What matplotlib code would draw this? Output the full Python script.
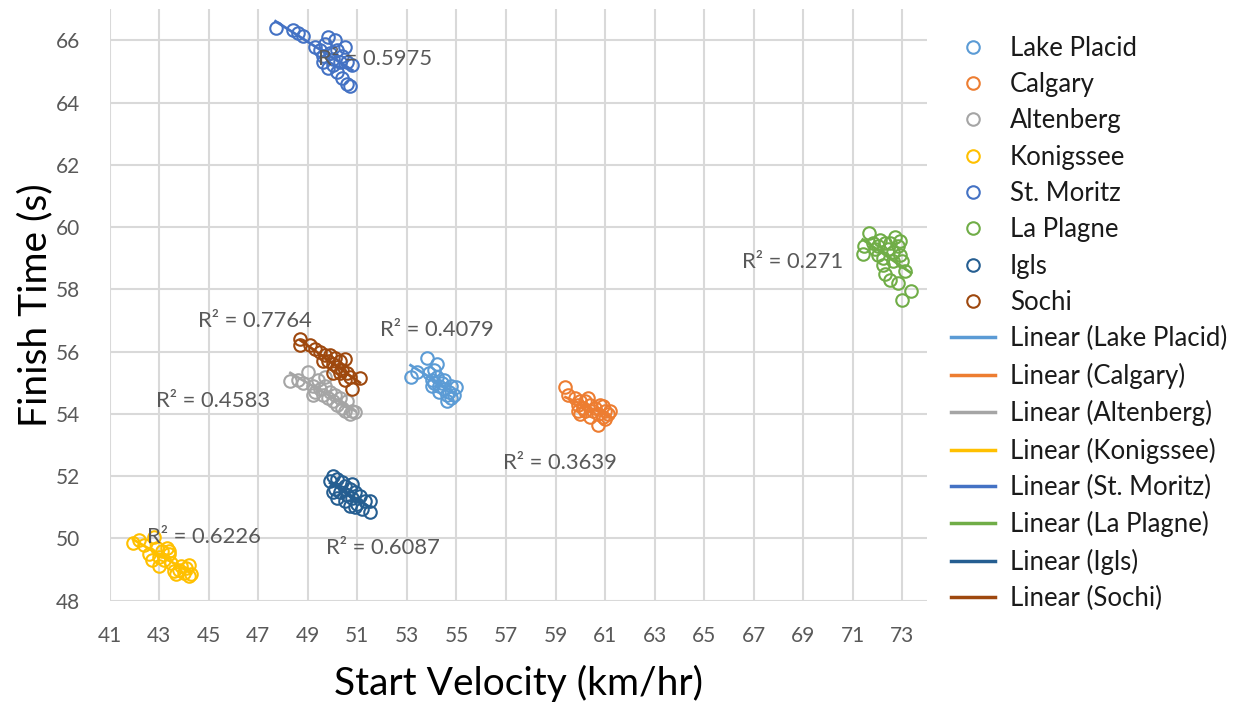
import numpy as np
import matplotlib
matplotlib.use("Agg")
import matplotlib.pyplot as plt
from matplotlib.lines import Line2D

plt.rcParams["font.family"] = ["Lato", "DejaVu Sans"]

# -- Donnees : vitesse de depart (km/h) et temps final (s) par piste --
TRACKS = ["Lake Placid", "Calgary", "Altenberg", "Konigssee",
          "St. Moritz", "La Plagne", "Igls", "Sochi"]

COLORS = ["#5B9BD5", "#ED7D31", "#A5A5A5", "#FFC000",
          "#4472C4", "#70AD47", "#255E91", "#9E480E"]

lake_placid_x = [53.15, 53.4, 53.8, 54.2, 53.9, 54.0, 54.1, 54.2, 54.3, 54.4, 54.5,
                 54.6, 54.7, 54.8, 54.9, 54.6, 54.3, 54.0, 54.8, 54.1, 54.5, 55.0]
lake_placid_y = [55.2, 55.35, 55.8, 55.6, 55.3, 55.1, 55.0, 55.2, 54.9, 55.0, 54.8,
                 54.6, 54.7, 54.9, 54.6, 54.4, 54.7, 54.9, 54.5, 55.4, 55.1, 54.85]

calgary_x = [59.4, 59.5, 59.8, 59.9, 60.0, 60.1, 60.0, 60.2, 60.3, 60.4, 60.5, 60.6,
             60.7, 60.8, 60.9, 61.0, 61.1, 61.2, 60.7, 60.4, 60.9, 60.2, 59.9, 61.0]
calgary_y = [54.85, 54.6, 54.5, 54.3, 54.4, 54.2, 54.0, 54.1, 54.5, 54.3, 54.1, 54.2,
             54.0, 54.3, 53.9, 54.1, 54.0, 54.1, 53.65, 53.9, 54.25, 54.4, 54.1, 53.85]

altenberg_x = [48.3, 48.6, 48.8, 49.0, 49.2, 49.3, 49.4, 49.5, 49.6, 49.7, 49.8, 49.9,
               50.0, 50.1, 50.2, 50.3, 50.4, 50.5, 50.6, 50.7, 50.8, 50.9, 49.2, 49.7]
altenberg_y = [55.05, 55.1, 55.0, 55.35, 54.9, 54.7, 55.1, 54.8, 54.6, 54.9, 54.5, 54.7,
               54.4, 54.6, 54.3, 54.5, 54.2, 54.1, 54.4, 54.0, 54.1, 54.05, 54.6, 55.2]

konigssee_x = [41.95, 42.2, 42.4, 42.6, 42.8, 42.9, 43.0, 43.1, 43.2, 43.3, 43.4, 43.0,
               42.7, 43.5, 43.6, 43.7, 43.8, 44.0, 44.1, 44.2, 44.3, 44.2, 43.9, 43.4]
konigssee_y = [49.85, 49.95, 49.8, 49.5, 50.05, 49.7, 49.4, 49.6, 49.3, 49.7, 49.5, 49.1,
               49.3, 49.2, 48.95, 48.85, 49.0, 48.9, 49.05, 48.8, 48.85, 49.15, 49.1, 49.6]

st_moritz_x = [47.7, 48.4, 48.6, 48.8, 49.3, 49.5, 49.6, 49.7, 49.8, 49.9, 50.0, 50.1,
               50.2, 50.3, 50.4, 50.5, 50.0, 50.2, 50.4, 50.6, 50.7, 50.8, 50.6, 49.6, 49.8]
st_moritz_y = [66.4, 66.35, 66.25, 66.15, 65.8, 65.7, 65.5, 65.9, 66.1, 65.6, 65.4, 66.0,
               65.7, 65.3, 65.5, 65.8, 65.2, 65.0, 64.8, 64.6, 64.55, 65.2, 65.3, 65.3, 65.1]

la_plagne_x = [71.4, 71.45, 71.65, 71.8, 71.9, 72.0, 72.0, 72.1, 72.2, 72.3, 72.4, 72.5, 72.6,
               72.7, 72.8, 72.9, 73.0, 72.3, 72.5, 72.8, 73.1, 73.0, 73.35, 72.2, 72.6, 72.9]
la_plagne_y = [59.15, 59.4, 59.8, 59.5, 59.3, 59.1, 59.4, 59.6, 59.0, 59.5, 59.3, 59.5, 58.9,
               59.7, 59.4, 59.1, 58.9, 58.5, 58.3, 58.2, 58.6, 57.65, 57.95, 58.8, 59.2, 59.55]

igls_x = [50.0, 49.9, 50.2, 50.4, 50.1, 50.3, 50.5, 50.6, 50.7, 50.8, 50.9, 51.0,
          50.2, 50.5, 50.9, 51.1, 51.3, 51.5, 51.5, 51.2, 50.7, 50.0, 50.8]
igls_y = [52.0, 51.85, 51.9, 51.8, 51.6, 51.5, 51.7, 51.4, 51.6, 51.3, 51.5, 51.1,
          51.3, 51.2, 51.0, 51.35, 51.2, 51.2, 50.85, 50.95, 51.05, 51.5, 51.75]

sochi_x = [48.7, 48.7, 49.1, 49.3, 49.5, 49.7, 49.8, 49.9, 50.0, 50.1, 50.2,
           50.3, 50.4, 50.5, 50.6, 50.5, 50.7, 51.1, 50.8, 50.3, 49.6, 50.0]
sochi_y = [56.4, 56.2, 56.2, 56.1, 56.0, 55.9, 55.7, 55.9, 55.6, 55.8, 55.5,
           55.7, 55.4, 55.75, 55.3, 55.1, 55.2, 55.15, 54.8, 55.3, 55.7, 55.3]

SERIES_X = [lake_placid_x, calgary_x, altenberg_x, konigssee_x,
            st_moritz_x, la_plagne_x, igls_x, sochi_x]
SERIES_Y = [lake_placid_y, calgary_y, altenberg_y, konigssee_y,
            st_moritz_y, la_plagne_y, igls_y, sochi_y]

# R² affiches et position des etiquettes (x, y en unites des axes)
R2_LABELS = ["0.4079", "0.3639", "0.4583", "0.6226",
             "0.5975", "0.271", "0.6087", "0.7764"]
R2_POS = [(51.93, 56.71), (56.86, 52.44), (42.88, 54.40), (42.52, 50.04),
          (49.42, 65.39), (66.52, 58.88), (49.75, 49.69), (44.58, 56.99)]

GRID = "#D9D9D9"
TICK = "#595959"

fig = plt.figure(figsize=(12.36, 7.03), dpi=100)
ax = fig.add_axes([0.0886, 0.1455, 0.6616, 0.8413])

handles_pts, handles_lin = [], []
for name, color, xs, ys, r2, pos in zip(TRACKS, COLORS, SERIES_X, SERIES_Y,
                                        R2_LABELS, R2_POS):
    xs = np.array(xs)
    ys = np.array(ys)
    ax.plot(xs, ys, linestyle="none", marker="o", markersize=9,
            markerfacecolor="none", markeredgecolor=color, markeredgewidth=1.5,
            zorder=3)
    # droite de tendance lineaire sur l'etendue des donnees
    a, b = np.polyfit(xs, ys, 1)
    xl = np.array([xs.min(), xs.max()])
    ax.plot(xl, a * xl + b, color=color, linewidth=2.0, zorder=4)
    ax.text(pos[0], pos[1], f"R² = {r2}", fontsize=15.8, color=TICK,
            ha="left", va="center", zorder=5)
    handles_pts.append(Line2D([], [], linestyle="none", marker="o", markersize=9,
                              markerfacecolor="none", markeredgecolor=color,
                              markeredgewidth=1.5))
    handles_lin.append(Line2D([], [], color=color, linewidth=2.5))

ax.set_xlim(41, 74)
ax.set_ylim(48, 67)
ax.set_xticks(np.arange(41, 74, 2))
ax.set_yticks(np.arange(48, 67, 2))
ax.grid(True, color=GRID, linewidth=1.5)
ax.set_axisbelow(True)
for s in ax.spines.values():
    s.set_visible(False)
ax.tick_params(length=0, labelsize=15, labelcolor=TICK)
ax.tick_params(axis="x", pad=18)
ax.tick_params(axis="y", pad=21)

ax.set_xlabel("Start Velocity (km/hr)", fontsize=28, color="#000000", labelpad=14)
ax.set_ylabel("Finish Time (s)", fontsize=28, color="#000000", labelpad=2)

labels = TRACKS + [f"Linear ({t})" for t in TRACKS]
fig.legend(handles_pts + handles_lin, labels, loc="upper left",
           bbox_to_anchor=(0.7694, 0.949), frameon=False, fontsize=18.5,
           borderpad=0, borderaxespad=0,
           handlelength=1.7, handletextpad=0.6, labelspacing=0.44,
           labelcolor="#1a1a1a")

plt.savefig("out.png", dpi=100)
